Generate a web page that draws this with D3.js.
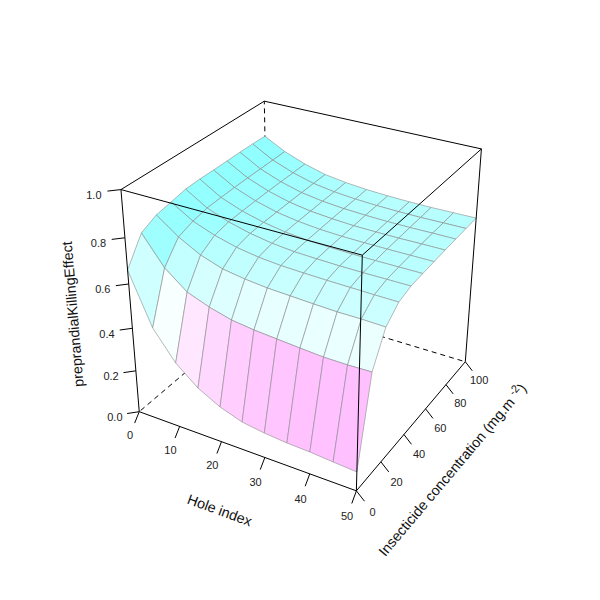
<!DOCTYPE html>
<html>
<head>
<meta charset="utf-8">
<script src="https://cdnjs.cloudflare.com/ajax/libs/d3/7.8.5/d3.min.js"></script>
<style>
  html, body { margin: 0; padding: 0; background: white; }
  text { font-family: "Liberation Sans", Arial, sans-serif; }
</style>
</head>
<body>
<div id="chart"></div>
<script>
/** DATA */
const holeIndex = [0, 5, 10, 15, 20, 25, 30, 35, 40, 45, 50];
const concentration = [0, 10, 20, 30, 40, 50, 60, 70, 80, 90, 100];
// one row per concentration, one column per hole index
const killingEffect = [
  [.661, .433, .304, .221, .167, .132, .117, .108, .104, .096, .089],
  [.775, .650, .572, .535, .508, .495, .487, .479, .472, .471, .474],
  [.808, .738, .686, .653, .637, .627, .622, .617, .613, .613, .610],
  [.821, .762, .726, .700, .684, .675, .671, .668, .666, .664, .663],
  [.835, .776, .740, .715, .698, .688, .684, .681, .680, .680, .680],
  [.838, .780, .744, .719, .702, .692, .688, .685, .684, .684, .684],
  [.838, .783, .747, .721, .705, .695, .690, .688, .687, .687, .687],
  [.839, .785, .749, .723, .707, .698, .692, .690, .689, .690, .690],
  [.840, .786, .750, .724, .709, .700, .695, .692, .691, .692, .692],
  [.840, .787, .751, .725, .710, .701, .696, .693, .692, .693, .694],
  [.838, .788, .752, .726, .712, .703, .698, .695, .694, .695, .696]
];
const xTicks = [0, 10, 20, 30, 40, 50];
const yTicks = [0, 20, 40, 60, 80, 100];
const zTicks = [0, 0.2, 0.4, 0.6, 0.8, 1];
const xTitle = "Hole index";
const zTitle = "preprandialKillingEffect";
const colorStops = [0.28, 0.408, 0.48, 0.56, 0.63, 0.70, 0.74, 0.84];
const colorValues = ["#FFBFFF", "#FFE8FF", "#FAFFFF", "#E6FFFF", "#CFFFFF", "#B5FFFF", "#A0FFFF", "#8CFFFF"];

/** SIZING & SCALE */
const width = 600, height = 600;
const theta = 30, phi = 30, dist = 10;
const tickLen = 0.07;

const xScale = d3.scaleLinear().domain([0, 50]).range([-1, 1]);
const yScale = d3.scaleLinear().domain([0, 100]).range([-1, 1]);
const zScale = d3.scaleLinear().domain([0, 1]).range([-1, 1]);
const screenX = d3.scaleLinear().domain([-0.25, 0.25]).range([-5.8, 620.2]);
const screenY = d3.scaleLinear().domain([-0.25, 0.25]).range([595.7, -30.3]);
const color = d3.scaleLinear().domain(colorStops).range(colorValues);

// same view transform as R's persp, works on the -1..1 cube
function project(u, v, w) {
  const t = theta * Math.PI / 180, f = phi * Math.PI / 180;
  const a = u * Math.cos(t) + v * Math.sin(t);
  const depth = u * Math.sin(t) - v * Math.cos(t);
  const b = w * Math.cos(f) - depth * Math.sin(f);
  const c = w * Math.sin(f) + depth * Math.cos(f);
  return [screenX(a / (dist - c)), screenY(b / (dist - c))];
}

const svg = d3.select("#chart").append("svg")
  .attr("width", width)
  .attr("height", height);

function edge(g, from, to, dashed) {
  const p = project(...from), q = project(...to);
  g.append("line")
    .attr("x1", p[0]).attr("y1", p[1])
    .attr("x2", q[0]).attr("y2", q[1])
    .attr("stroke", "black")
    .attr("stroke-width", 1)
    .attr("stroke-dasharray", dashed ? "5,4" : null);
}

/** HIDDEN BOX EDGES */
const back = svg.append("g");
edge(back, [-1, 1, -1], [-1, -1, -1], true);
edge(back, [-1, 1, -1], [1, 1, -1], true);
edge(back, [-1, 1, -1], [-1, 1, 1], true);

/** SURFACE */
// painted back to front: low hole index first, high concentration first
let facets = [];
d3.range(holeIndex.length - 1).forEach((i) => {
  d3.range(concentration.length - 2, -1, -1).forEach((j) => {
    facets.push({i: i, j: j});
  });
});
const corner = (i, j) => project(xScale(holeIndex[i]), yScale(concentration[j]), zScale(killingEffect[j][i]));
svg.append("g").selectAll("path")
  .data(facets).enter()
  .append("path")
  .attr("d", (d) => "M" + [corner(d.i, d.j), corner(d.i + 1, d.j), corner(d.i + 1, d.j + 1), corner(d.i, d.j + 1)].join("L") + "Z")
  .attr("fill", (d) => color(d3.mean([killingEffect[d.j][d.i], killingEffect[d.j][d.i + 1], killingEffect[d.j + 1][d.i], killingEffect[d.j + 1][d.i + 1]])))
  .attr("stroke", "#8a8a8a")
  .attr("stroke-width", 0.6)
  .attr("stroke-linejoin", "round");

/** FRONT BOX EDGES */
const front = svg.append("g");
edge(front, [-1, -1, -1], [1, -1, -1]);
edge(front, [1, -1, -1], [1, 1, -1]);
edge(front, [-1, -1, -1], [-1, -1, 1]);
edge(front, [1, -1, -1], [1, -1, 1]);
edge(front, [1, 1, -1], [1, 1, 1]);
edge(front, [-1, -1, 1], [1, -1, 1]);
edge(front, [1, -1, 1], [1, 1, 1]);
edge(front, [1, 1, 1], [-1, 1, 1]);
edge(front, [-1, 1, 1], [-1, -1, 1]);

/** AXES */
const axes = svg.append("g");
function ticks(values, scale, place, dir, fmt, dy) {
  values.forEach((val) => {
    const base = place(scale(val));
    edge(axes, base, [base[0] + dir[0] * tickLen, base[1] + dir[1] * tickLen, base[2] + dir[2] * tickLen]);
    const lab = project(base[0] + dir[0] * tickLen * 2, base[1] + dir[1] * tickLen * 2, base[2] + dir[2] * tickLen * 2);
    axes.append("text")
      .attr("x", lab[0]).attr("y", lab[1])
      .attr("text-anchor", "middle")
      .attr("dy", dy)
      .attr("font-size", 11)
      .attr("fill", "#222")
      .text(fmt(val));
  });
}
ticks(xTicks, xScale, (v) => [v, -1, -1], [0, -1, -1], d3.format("d"), "0.36em");
ticks(yTicks, yScale, (v) => [1, v, -1], [1, 0, -1], d3.format("d"), "0.36em");
ticks(zTicks, zScale, (v) => [-1, -1, v], [-1, -1, 0], d3.format(".1f"), "0.55em");

function title(from, to, dir, mult) {
  const p = project(...from), q = project(...to);
  let angle = Math.atan2(q[1] - p[1], q[0] - p[0]) * 180 / Math.PI;
  const mid = project((from[0] + to[0]) / 2 + dir[0] * tickLen * mult, (from[1] + to[1]) / 2 + dir[1] * tickLen * mult, (from[2] + to[2]) / 2 + dir[2] * tickLen * mult);
  return axes.append("text")
    .attr("transform", `translate(${mid[0]},${mid[1]}) rotate(${angle})`)
    .attr("text-anchor", "middle")
    .attr("dy", "0.36em")
    .attr("font-size", 14.3)
    .attr("fill", "#111");
}
title([-1, -1, -1], [1, -1, -1], [0, -1, -1], 5).text(xTitle);
title([-1, -1, -1], [-1, -1, 1], [-1, -1, 0], 4.5).text(zTitle);
const yLabel = title([1, -1, -1], [1, 1, -1], [1, 0, -1], 5);
yLabel.append("tspan").text("Insecticide concentration (mg.m ");
yLabel.append("tspan").attr("dy", "-0.5em").attr("font-size", 11).text("-2");
yLabel.append("tspan").attr("dy", "0.39em").text(")");
</script>
</body>
</html>
